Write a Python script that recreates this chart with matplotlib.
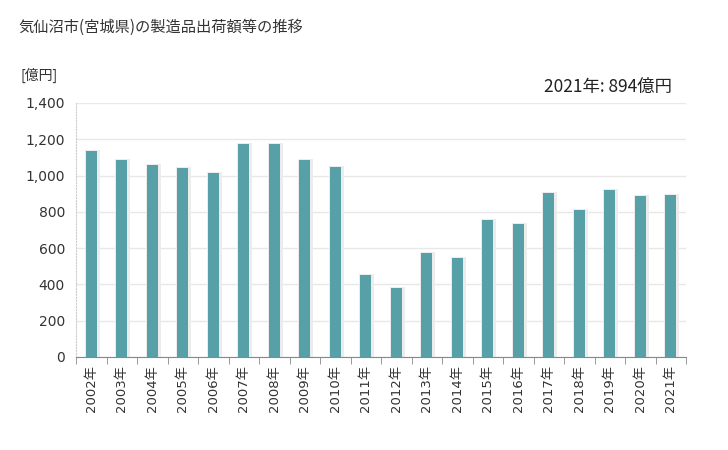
import matplotlib
matplotlib.use("Agg")
import matplotlib.pyplot as plt
import numpy as np

plt.rcParams['font.family'] = ['Noto Sans CJK JP', 'DejaVu Sans']

years = ["2002年", "2003年", "2004年", "2005年", "2006年", "2007年", "2008年", "2009年", "2010年", "2011年",
         "2012年", "2013年", "2014年", "2015年", "2016年", "2017年", "2018年", "2019年", "2020年", "2021年"]
values = [1137, 1086, 1058, 1042, 1014, 1174, 1176, 1086, 1047, 452,
          380, 573, 546, 755, 733, 904, 810, 920, 887, 894]
yticks = [0, 200, 400, 600, 800, 1000, 1200, 1400]
ytick_labels = ["0", "200", "400", "600", "800", "1,000", "1,200", "1,400"]

fig = plt.figure(figsize=(7.28, 4.5), dpi=100)
ax = fig.add_axes([76/728, 93/450, 610/728, 254/450])

x = np.arange(len(years))
w = 0.37
ax.bar(x + 0.03, [v + 6 for v in values], width=w + 0.12, color='#ececec', zorder=2)
ax.bar(x, values, width=w, color='#57a0a8', zorder=3)

ax.set_xlim(-0.5, len(years) - 0.5)
ax.set_ylim(0, 1400)
ax.set_yticks(yticks)
ax.set_yticklabels(ytick_labels, fontsize=10, color='#333333', family='DejaVu Sans')
ax.set_xticks(x)
ax.set_xticklabels(years, rotation=90, fontsize=9.5, color='#333333', family=['DejaVu Sans', 'Noto Sans CJK JP'])
ax.tick_params(axis='x', length=0, pad=6)
ax.tick_params(axis='y', length=0, pad=8)
ax.set_xticks(np.arange(-0.5, len(years), 1), minor=True)
ax.tick_params(axis='x', which='minor', length=5, color='#888888')

ax.grid(axis='y', color='#e8e8e8', linewidth=1, zorder=0)
for s in ['top', 'right']:
    ax.spines[s].set_visible(False)
ax.spines['left'].set_color('#cccccc')
ax.spines['left'].set_linestyle(':')
ax.spines['bottom'].set_color('#888888')

fig.text(18/728, 1 - 27/450, "気仙沼市(宮城県)の製造品出荷額等の推移", fontsize=11, va='center', ha='left', color='#333333')
fig.text(20/728, 1 - 75/450, "[億円]", fontsize=10, va='center', ha='left', color='#333333')
fig.text(672/728, 1 - 87/450, "2021年: 894億円", fontsize=12.5, va='center', ha='right', color='#222222')

fig.savefig("out.png", dpi=100)
